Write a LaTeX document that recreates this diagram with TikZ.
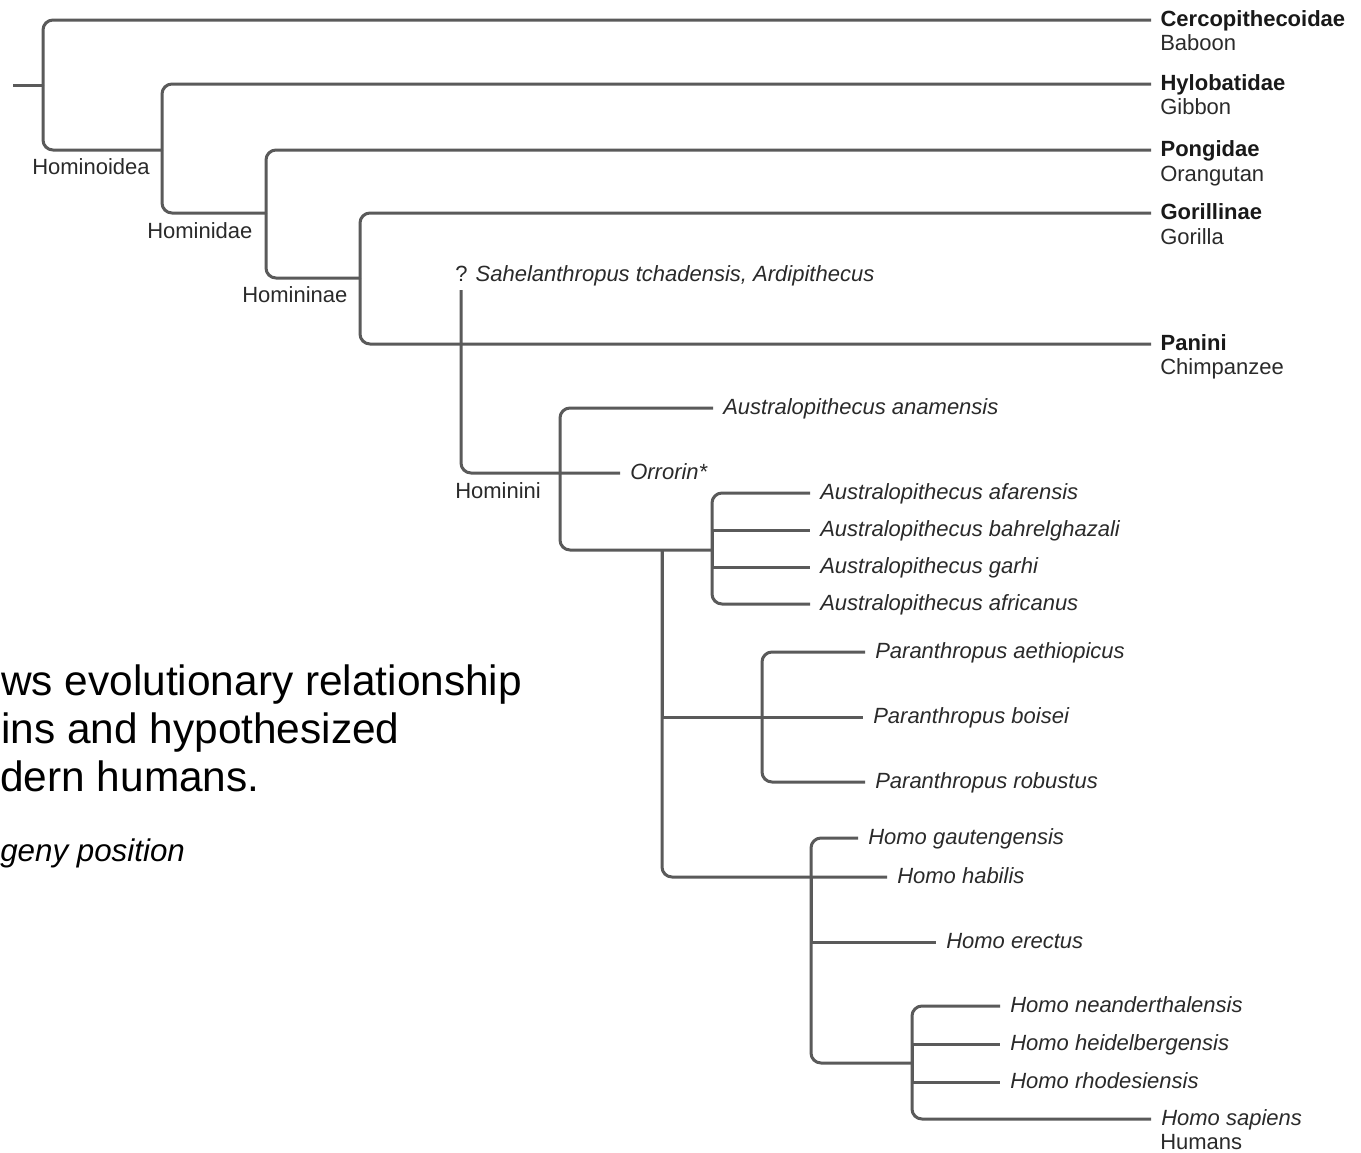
\documentclass[tikz,border=0pt]{standalone}
\usepackage{fontspec}
\setmainfont{Liberation Sans}
\definecolor{linegray}{HTML}{5A5A5A}
\definecolor{txt}{HTML}{2A2A2A}
\newcommand\phylofont{\fontsize{16.5pt}{19pt}\selectfont}
\begin{document}
\begin{tikzpicture}[x=0.75pt,y=-0.75pt,
  br/.style={draw=linegray, line width=2.25pt, rounded corners=7.5pt},
  lbl/.style={inner sep=0pt, text height=1.18em, text depth=0.2em, font=\phylofont, text=txt, anchor=west},
  leafb/.style={lbl, inner xsep=7pt, font=\phylofont\bfseries, text=black!90},
  leafi/.style={lbl, inner xsep=7.5pt, font=\phylofont\itshape},
  common/.style={lbl}]
\useasboundingbox[fill=white] (0,0) rectangle (1361,1153);

% caption fragments
\node[anchor=base west, inner sep=0pt, font=\fontsize{31.8pt}{36pt}\selectfont] (cap1) at (1,695) {ws evolutionary relationship};
\node[anchor=base west, inner sep=0pt, font=\fontsize{31.8pt}{36pt}\selectfont] (cap2) at (1,743) {ins and hypothesized};
\node[anchor=base west, inner sep=0pt, font=\fontsize{31.8pt}{36pt}\selectfont] (cap3) at (0,791) {dern humans.};
\node[anchor=base west, inner sep=0pt, font=\fontsize{23.5pt}{27pt}\selectfont\itshape] (cap4) at (0,861) {geny position};

% leaves (top)
\node[leafb] (cerc) at (1151,20) {Cercopithecoidae};
\node[common] (baboon) at (1160,44) {Baboon};
\node[leafb] (hylo) at (1151,84) {Hylobatidae};
\node[common] (gibbon) at (1160,108) {Gibbon};
\node[leafb] (pong) at (1151,150) {Pongidae};
\node[common] (orang) at (1160,175) {Orangutan};
\node[leafb] (gor) at (1151,213) {Gorillinae};
\node[common] (gorilla) at (1160,238) {Gorilla};
\node[leafb] (pan) at (1151,344) {Panini};
\node[common] (chimp) at (1160,368) {Chimpanzee};

% clade labels
\node[lbl] (lhominoidea) at (32,168) {Hominoidea};
\node[lbl] (lhominidae) at (147,232) {Hominidae};
\node[lbl] (lhomininae) at (242,296) {Homininae};
\node[lbl] (lhominini) at (455,492) {Hominini};

% hominin leaves
\node[lbl] (sahel) at (455,275) {? \textit{Sahelanthropus tchadensis, Ardipithecus}};
\node[leafi] (orrorin) at (620,473) {Orrorin*};
\node[leafi] (anam) at (713,408) {Australopithecus anamensis};
\node[leafi] (afar) at (810,493) {Australopithecus afarensis};
\node[leafi] (bahr) at (810,530) {Australopithecus bahrelghazali};
\node[leafi] (garhi) at (810,567) {Australopithecus garhi};
\node[leafi] (afric) at (810,604) {Australopithecus africanus};
\node[leafi] (aeth) at (865,652) {Paranthropus aethiopicus};
\node[leafi] (boisei) at (863,717) {Paranthropus boisei};
\node[leafi] (robust) at (865,782) {Paranthropus robustus};
\node[leafi] (gaut) at (858,838) {Homo gautengensis};
\node[leafi] (habilis) at (887,877) {Homo habilis};
\node[leafi] (erectus) at (936,942) {Homo erectus};
\node[leafi] (nean) at (1000,1006) {Homo neanderthalensis};
\node[leafi] (heid) at (1000,1044) {Homo heidelbergensis};
\node[leafi] (rhod) at (1000,1082) {Homo rhodesiensis};
\node[leafi] (sapiens) at (1151,1119) {Homo sapiens};
\node[common] (humans) at (1160,1143) {Humans};

% internal nodes
\coordinate (root) at (13,85);
\coordinate (n1) at (43,85);
\coordinate (n2) at (162,150);
\coordinate (n3) at (266,213);
\coordinate (n4) at (360,278);
\coordinate (stem) at (461,290);
\coordinate (h) at (560,473);
\coordinate (aus) at (712,550);
\coordinate (pb) at (662,550);
\coordinate (par) at (762,717);
\coordinate (homo) at (811,877);
\coordinate (sapn) at (912,1063);

% connectors
\draw[br] (root) -- (n1);
\draw[br] (n1) |- (cerc);
\draw[br] (n1) |- (n2);
\draw[br] (n2) |- (hylo);
\draw[br] (n2) |- (n3);
\draw[br] (n3) |- (pong);
\draw[br] (n3) |- (n4);
\draw[br] (n4) |- (gor);
\draw[br] (n4) |- (pan);
\draw[br] (stem) |- (orrorin);
\draw[br] (h) |- (anam);
\draw[br] (h) |- (aus);
\draw[br] (aus) |- (afar);
\draw[br] (aus) |- (afric);
\draw[br,sharp corners] (aus) |- (bahr);
\draw[br,sharp corners] (aus) |- (garhi);
\draw[br] (pb) |- (habilis);
\draw[br,sharp corners] (pb) |- (boisei);
\draw[br] (par) |- (aeth);
\draw[br] (par) |- (robust);
\draw[br] (homo) |- (gaut);
\draw[br,sharp corners] (homo) |- (erectus);
\draw[br] (homo) |- (sapn);
\draw[br] (sapn) |- (nean);
\draw[br,sharp corners] (sapn) |- (heid);
\draw[br,sharp corners] (sapn) |- (rhod);
\draw[br] (sapn) |- (sapiens);
\end{tikzpicture}
\end{document}
